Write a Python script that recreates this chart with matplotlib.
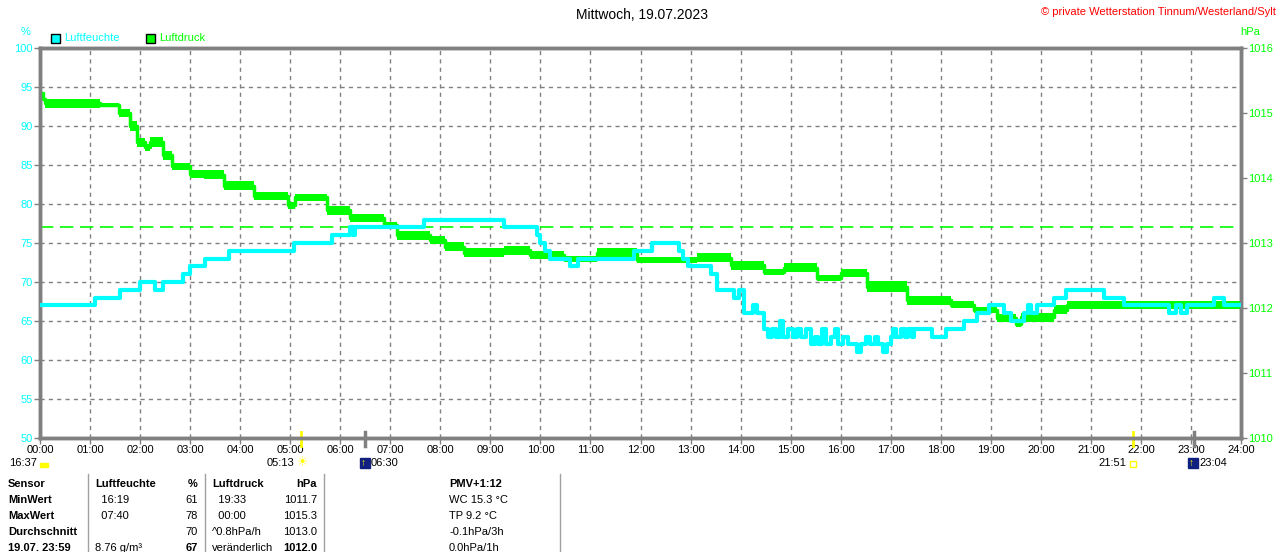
import matplotlib
matplotlib.use("Agg")
import matplotlib.pyplot as plt
import matplotlib.transforms as mtransforms
from matplotlib.patches import Rectangle

plt.rcParams['font.family'] = ['Liberation Sans', 'DejaVu Sans']

# humidity (%), step data: hour, value
hum_t = [0, 1.1, 1.6, 2.0, 2.3, 2.45, 2.85, 3.0, 3.3, 3.77, 5.07, 5.83, 6.2, 6.25, 6.3,
         7.67, 9.27, 9.93, 10.0, 10.1, 10.2, 10.47, 10.6, 10.75, 11.87, 12.23, 12.77,
         12.85, 12.95, 13.07, 13.4, 13.53, 13.87, 13.97, 14.07, 14.25, 14.32, 14.47,
         14.55, 14.62, 14.7, 14.78, 14.85, 14.95, 15.05, 15.12, 15.2, 15.3, 15.4, 15.48,
         15.55, 15.62, 15.7, 15.8, 15.88, 15.95, 16.05, 16.15, 16.32, 16.4, 16.5, 16.58,
         16.68, 16.75, 16.85, 16.92, 17.0, 17.05, 17.1, 17.2, 17.28, 17.35, 17.42, 17.47,
         17.83, 18.1, 18.47, 18.73, 18.97, 19.27, 19.4, 19.67, 19.75, 19.8, 19.93, 20.27,
         20.5, 21.27, 21.67, 22.57, 22.7, 22.8, 22.93, 23.47, 23.67, 24.0]
hum_v = [67, 68, 69, 70, 69, 70, 71, 72, 73, 74, 75, 76, 77, 76, 77,
         78, 77, 76, 75, 74, 73, 73, 72, 73, 74, 75, 74,
         73, 72, 72, 71, 69, 68, 69, 66, 67, 66, 64,
         63, 64, 63, 65, 63, 64, 63, 64, 63, 64, 62, 63,
         62, 64, 62, 63, 64, 62, 63, 62, 61, 62, 63, 62,
         63, 62, 61, 62, 63, 64, 63, 64, 63, 64, 63, 64,
         63, 64, 65, 66, 67, 66, 65, 66, 67, 66, 67, 68,
         69, 68, 67, 66, 67, 66, 67, 68, 67, 67]

# pressure (hPa), step data: hour, level, jitter half-range
pres_t = [0, 0.05, 0.1, 1.2, 1.57, 1.8, 1.93, 2.1, 2.2, 2.45, 2.63, 3.0, 3.27, 3.67, 4.27,
          4.95, 5.1, 5.73, 6.2, 6.87, 7.13, 7.8, 8.1, 8.47, 9.27, 9.8, 10.47, 11.13,
          11.93, 13.13, 13.8, 14.47, 14.87, 15.53, 16.0, 16.53, 17.33, 18.2, 18.67,
          19.13, 19.5, 19.6, 20.27, 20.53, 24.0]
pres_v = [1015.3, 1015.22, 1015.15, 1015.13, 1015.0, 1014.8, 1014.55, 1014.47, 1014.55,
          1014.35, 1014.18, 1014.06, 1014.05, 1013.88, 1013.72, 1013.58, 1013.7, 1013.5,
          1013.38, 1013.28, 1013.12, 1013.05, 1012.94, 1012.85, 1012.89, 1012.82,
          1012.75, 1012.85, 1012.74, 1012.77, 1012.66, 1012.55, 1012.62, 1012.46,
          1012.54, 1012.33, 1012.12, 1012.05, 1011.97, 1011.85, 1011.75, 1011.86,
          1011.97, 1012.05, 1012.0]
pres_j = [0.03, 0.03, 0.07, 0.03, 0.06, 0.08, 0.07, 0.06, 0.08, 0.07, 0.05, 0.06, 0.07,
          0.07, 0.06, 0.05, 0.05, 0.07, 0.06, 0.05, 0.07, 0.06, 0.07, 0.07, 0.07, 0.06,
          0.05, 0.07, 0.05, 0.07, 0.07, 0.05, 0.07, 0.05, 0.06, 0.08, 0.07, 0.05, 0.05,
          0.06, 0.05, 0.07, 0.07, 0.06, 0.06]
pres_ref = 1013.25

hour_labels = ["%02d:00" % h for h in range(25)]
sun_events = [("16:37", 16 + 37 / 60, "moon"), ("05:13", 5 + 13 / 60, "sunrise"),
              ("06:30", 6.5, "moonrise"), ("21:51", 21 + 51 / 60, "sunset"),
              ("23:04", 23 + 4 / 60, "moonset")]

table_rows = [
    ["Sensor", "Luftfeuchte", "%", "Luftdruck", "hPa", "PMV+1:12"],
    ["MinWert", "  16:19", "61", "  19:33", "1011.7", "WC 15.3 °C"],
    ["MaxWert", "  07:40", "78", "  00:00", "1015.3", "TP 9.2 °C"],
    ["Durchschnitt", "", "70", "^0.8hPa/h", "1013.0", "-0.1hPa/3h"],
    ["19.07. 23:59", "8.76 g/m³", "67", "veränderlich", "1012.0", "0.0hPa/1h"],
]

CYAN = "#00ffff"
GREEN = "#00ff00"
GRAY = "#808080"
W, H = 1280, 552


def fx(px):
    return px / W


def fy(py):
    return 1 - py / H


fig = plt.figure(figsize=(12.8, 5.52), dpi=100)
ax = fig.add_axes([fx(40), fy(438), fx(1241) - fx(40), fy(48) - fy(438)])
ax2 = ax.twinx()

ax.set_xlim(0, 24)
ax.set_ylim(50, 100)
ax2.set_ylim(1010, 1016)

ax.set_xticks(range(25))
ax.set_xticklabels(hour_labels)
ax.set_yticks(range(50, 101, 5))
ax2.set_yticks(range(1010, 1017))

ax.grid(True, color=GRAY, linestyle=(0, (3, 3)), linewidth=1)
for a in (ax, ax2):
    for s in a.spines.values():
        s.set_color(GRAY)
        s.set_linewidth(2.5)
ax.tick_params(axis='y', colors=GRAY, labelcolor=CYAN, labelsize=8, length=4, width=1, pad=1)
ax.tick_params(axis='x', colors=GRAY, labelcolor='black', labelsize=8, length=4, width=1, pad=1)
ax2.tick_params(axis='y', colors=GRAY, labelcolor=GREEN, labelsize=8, length=4, width=1, pad=1)

# pressure: jitter band + step line
lo = [v - j for v, j in zip(pres_v, pres_j)]
hi = [v + j for v, j in zip(pres_v, pres_j)]
ax2.fill_between(pres_t, lo, hi, step='post', color=GREEN, linewidth=0)
ax2.step(pres_t, pres_v, where='post', color=GREEN, linewidth=2.5)
ax2.axhline(pres_ref, color=GREEN, linestyle=(0, (8, 4)), linewidth=1.2)

# humidity
ax2.step(hum_t, [1010 + (v - 50) * 6 / 50 for v in hum_v], where='post', color=CYAN,
         linewidth=3, zorder=3)

# sun / moon markers on the time axis
trans = mtransforms.blended_transform_factory(ax.transData, fig.transFigure)
for label, t, kind in sun_events:
    px = 40 + t * 50
    if kind in ("sunrise", "sunset"):
        ax.plot([t, t], [fy(432), fy(446)], color='#ffff00', linewidth=2, transform=trans,
                clip_on=False)
    elif kind in ("moonrise", "moonset"):
        ax.plot([t, t], [fy(432), fy(446)], color=GRAY, linewidth=2.5, transform=trans,
                clip_on=False)
    if kind == "moon":
        fig.text(fx(37), fy(463), label, ha='right', va='center', fontsize=8)
        fig.patches.append(Rectangle((fx(40), fy(467)), 8 / W, 4 / H, color='#ffff00',
                                     transform=fig.transFigure))
    elif kind == "sunrise":
        fig.text(fx(px - 6), fy(463), label, ha='right', va='center', fontsize=8)
        fig.text(fx(px + 2), fy(463), "☀", ha='center', va='center', fontsize=9,
                 color='#ffff00')
    elif kind == "sunset":
        fig.text(fx(px - 6), fy(463), label, ha='right', va='center', fontsize=8)
        fig.patches.append(Rectangle((fx(px - 3), fy(467)), 6 / W, 6 / H, fill=False,
                                     edgecolor='#ffff00', linewidth=1,
                                     transform=fig.transFigure))
    else:
        fig.patches.append(Rectangle((fx(px - 5), fy(468)), 10 / W, 10 / H,
                                     color='#102080', transform=fig.transFigure))
        fig.text(fx(px - 2), fy(463), "↑", ha='center', va='center', fontsize=7,
                 color='#ffff00')
        fig.text(fx(px + 6), fy(463), label, ha='left', va='center', fontsize=8)

# titles and units
fig.text(fx(642), fy(15), "Mittwoch, 19.07.2023", ha='center', va='center', fontsize=10)
fig.text(fx(1276), fy(12), "© private Wetterstation Tinnum/Westerland/Sylt", ha='right',
         va='center', fontsize=8, color='#ff0000')
fig.text(fx(26), fy(32), "%", ha='center', va='center', fontsize=8, color=CYAN)
fig.text(fx(1250), fy(32), "hPa", ha='center', va='center', fontsize=8, color=GREEN)

# legend
for x0, txt, col in [(51, "Luftfeuchte", CYAN), (146, "Luftdruck", GREEN)]:
    fig.patches.append(Rectangle((fx(x0), fy(43)), 9 / W, 9 / H, facecolor=col,
                                 edgecolor='black', linewidth=1, transform=fig.transFigure))
    fig.text(fx(x0 + 13), fy(38), txt, ha='left', va='center', fontsize=8, color=col)

# table
row_y = [484, 500, 516, 532, 548]
for i, row in enumerate(table_rows):
    y = fy(row_y[i])
    bold_row = i == 0
    fig.text(fx(8), y, row[0], ha='left', va='center', fontsize=8, weight='bold')
    fig.text(fx(95), y, row[1], ha='left', va='center', fontsize=8,
             weight='bold' if bold_row else 'normal')
    fig.text(fx(198), y, row[2], ha='right', va='center', fontsize=8,
             weight='bold' if bold_row or i == 4 else 'normal')
    fig.text(fx(212), y, row[3], ha='left', va='center', fontsize=8,
             weight='bold' if bold_row else 'normal')
    fig.text(fx(317), y, row[4], ha='right', va='center', fontsize=8,
             weight='bold' if bold_row or i == 4 else 'normal')
    fig.text(fx(449), y, row[5], ha='left', va='center', fontsize=8,
             weight='bold' if bold_row else 'normal')
for xs in (88, 205, 324, 560):
    fig.add_artist(plt.Line2D([fx(xs), fx(xs)], [fy(474), 0], color='#a0a0a0',
                              linewidth=1, transform=fig.transFigure))

fig.savefig("out.png", dpi=100)
